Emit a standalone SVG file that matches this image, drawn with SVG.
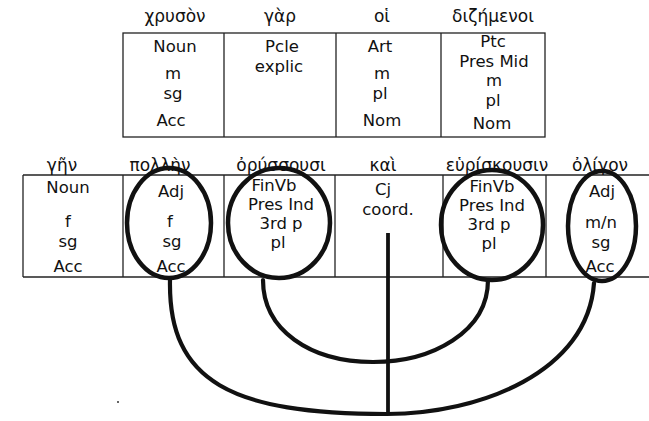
<svg xmlns="http://www.w3.org/2000/svg" width="649" height="421" viewBox="0 0 649 421">
<style>
text{font-family:"DejaVu Sans","Liberation Sans",sans-serif;font-size:16.5px;fill:#111;text-anchor:middle}
.hd{font-size:17px}
.tb{fill:none;stroke:#222;stroke-width:1.3}
.ring{fill:none;stroke:#111;stroke-width:4.5}
.con{fill:none;stroke:#111;stroke-width:4.2;stroke-linecap:round}
</style>
<rect width="649" height="421" fill="#fff"/>
<g id="top-table">
<rect class="tb" x="123" y="33" width="422" height="104"/>
<line class="tb" x1="224" y1="33" x2="224" y2="137"/>
<line class="tb" x1="336" y1="33" x2="336" y2="137"/>
<line class="tb" x1="441" y1="33" x2="441" y2="137"/>
</g>
<g id="w-chryson">
<text class="hd" x="175" y="22">χρυσὸν</text>
<text x="175" y="52">Noun</text>
<text x="173" y="79">m</text>
<text x="173" y="99">sg</text>
<text x="171" y="126">Acc</text>
</g>
<g id="w-gar">
<text class="hd" x="280" y="22">γὰρ</text>
<text x="282" y="52">Pcle</text>
<text x="279" y="72">explic</text>
</g>
<g id="w-hoi">
<text class="hd" x="382" y="22">οἱ</text>
<text x="380" y="52">Art</text>
<text x="382" y="79">m</text>
<text x="380" y="99">pl</text>
<text x="382" y="126">Nom</text>
</g>
<g id="w-dizemenoi">
<text class="hd" x="493" y="22">διζήμενοι</text>
<text x="493" y="47">Ptc</text>
<text x="494" y="67">Pres Mid</text>
<text x="494" y="86">m</text>
<text x="493" y="106">pl</text>
<text x="492" y="129">Nom</text>
</g>
<g id="bottom-table">
<line class="tb" x1="23" y1="175" x2="649" y2="175"/>
<line class="tb" x1="23" y1="277" x2="649" y2="277"/>
<line class="tb" x1="23" y1="175" x2="23" y2="277"/>
<line class="tb" x1="123" y1="175" x2="123" y2="277"/>
<line class="tb" x1="224" y1="175" x2="224" y2="277"/>
<line class="tb" x1="335" y1="175" x2="335" y2="277"/>
<line class="tb" x1="443" y1="175" x2="443" y2="277"/>
<line class="tb" x1="546" y1="175" x2="546" y2="277"/>
</g>
<g id="w-gen">
<text class="hd" x="62" y="171">γῆν</text>
<text x="68" y="193">Noun</text>
<text x="68" y="227">f</text>
<text x="68" y="247">sg</text>
<text x="68" y="272">Acc</text>
</g>
<g id="w-pollen">
<text class="hd" x="160" y="171">πολλὴν</text>
<text x="171" y="197">Adj</text>
<text x="170" y="227">f</text>
<text x="172" y="247">sg</text>
<text x="171" y="272">Acc</text>
<ellipse class="ring" cx="169" cy="223" rx="42" ry="55"/>
</g>
<g id="w-oryssousi">
<text class="hd" x="281" y="171">ὀρύσσουσι</text>
<text x="274" y="191">FinVb</text>
<text x="281" y="210">Pres Ind</text>
<text x="281" y="229">3rd p</text>
<text x="278" y="248">pl</text>
<ellipse class="ring" cx="279" cy="223" rx="51" ry="55"/>
</g>
<g id="w-kai">
<text class="hd" x="383" y="171">καὶ</text>
<text x="383" y="195">Cj</text>
<text x="388" y="215">coord.</text>
</g>
<g id="w-heuriskousin">
<text class="hd" x="497" y="171">εὑρίσκουσιν</text>
<text x="492" y="192">FinVb</text>
<text x="492" y="211">Pres Ind</text>
<text x="489" y="230">3rd p</text>
<text x="489" y="249">pl</text>
<ellipse class="ring" cx="492" cy="225" rx="51" ry="55"/>
</g>
<g id="w-oligon">
<text class="hd" x="600" y="171">ὀλίγον</text>
<text x="602" y="197">Adj</text>
<text x="601" y="228">m/n</text>
<text x="601" y="248">sg</text>
<text x="600" y="272">Acc</text>
<ellipse class="ring" cx="602" cy="226" rx="34" ry="55"/>
</g>
<g id="connectors">
<path class="con" d="M170,280 C168,382 232,414 387,414 C480,414 588,372 594,283"/>
<path class="con" d="M263,280 C263,330 310,362 373,362 C432,362 488,332 488,280"/>
<line class="con" x1="388" y1="233" x2="388" y2="414" style="stroke-linecap:butt;stroke-width:3.8"/>
</g>
<circle cx="118" cy="402" r="1" fill="#333"/>
</svg>
